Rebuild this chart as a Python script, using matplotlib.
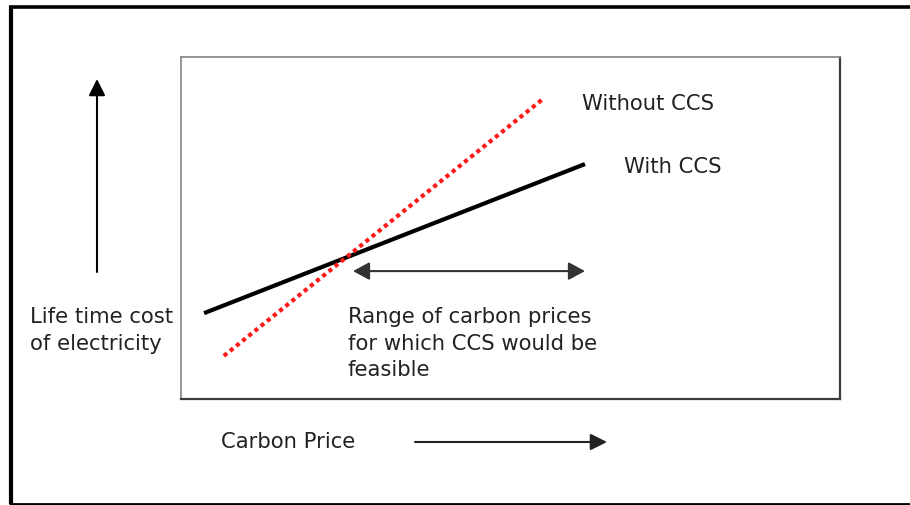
import matplotlib
matplotlib.use("Agg")
import matplotlib.pyplot as plt

plt.rcParams['font.family'] = ['DejaVu Sans']

# ---- data (conceptual diagram, axis units 0-100) ----
price_with = [3.5, 61.3]
cost_with = [25.1, 68.7]
price_without = [6.5, 54.9]
cost_without = [12.6, 87.7]
range_start = 26.1
range_end = 61.3
range_level = 37.4

label_without = "Without CCS"
label_with = "With CCS"
ylabel_lines = ["Life time cost", "of electricity"]
xlabel = "Carbon Price"
range_lines = ["Range of carbon prices", "for which CCS would be", "feasible"]

W, H = 910, 505
fig = plt.figure(figsize=(W / 100, H / 100), dpi=100)

# background axes in pixel coordinates (for frame, outside texts and arrows)
bg = fig.add_axes([0, 0, 1, 1])
bg.set_xlim(0, W)
bg.set_ylim(H, 0)
bg.axis('off')

# outer frame (left, top, bottom)
bg.plot([10.5, 10.5], [6, 504], color='black', lw=3, solid_capstyle='butt')
bg.plot([9, 910], [7, 7], color='black', lw=2.6, solid_capstyle='butt')
bg.plot([9, 910], [503.5, 503.5], color='black', lw=2.0, solid_capstyle='butt')

txt_color = '#222222'
fs = 15.2

# y-axis label and arrow
for i, line in enumerate(ylabel_lines):
    bg.text(30, 323 + 26.5 * i, line, fontsize=fs, color=txt_color, ha='left', va='baseline')
bg.annotate('', xy=(97, 79), xytext=(97, 272),
            arrowprops=dict(arrowstyle='-|>,head_length=0.5,head_width=0.25',
                            mutation_scale=20, color='black', lw=1.5,
                            shrinkA=0, shrinkB=0))

# x-axis label and arrow
bg.text(221, 448, xlabel, fontsize=fs, color=txt_color, ha='left', va='baseline')
bg.annotate('', xy=(607, 442), xytext=(415, 442),
            arrowprops=dict(arrowstyle='-|>,head_length=0.5,head_width=0.25',
                            mutation_scale=20, color='#222222', lw=1.5,
                            shrinkA=0, shrinkB=0))

# inner plot box
left, right, top, bottom = 181, 840, 57, 399
ax = fig.add_axes([left / W, (H - bottom) / H, (right - left) / W, (bottom - top) / H])
ax.set_xlim(0, 100)
ax.set_ylim(0, 100)
ax.set_xticks([])
ax.set_yticks([])
ax.patch.set_alpha(0)
for s in ['left', 'top']:
    ax.spines[s].set_color('#8c8c8c')
    ax.spines[s].set_linewidth(1.3)
for s in ['right', 'bottom']:
    ax.spines[s].set_color('#3c3c3c')
    ax.spines[s].set_linewidth(1.6)

ax.plot(price_with, cost_with, color='black', lw=3.0, solid_capstyle='butt', zorder=3)
ax.plot(price_without, cost_without, color='#ff1a1a', lw=3.0,
        linestyle=(0, (1, 0.9)), dash_capstyle='butt', zorder=4)

ax.annotate('', xy=(range_end, range_level), xytext=(range_start, range_level),
            arrowprops=dict(arrowstyle='<|-|>,head_length=0.5,head_width=0.27',
                            mutation_scale=20, color='#333333', lw=1.5,
                            shrinkA=0, shrinkB=0))

# labels inside the box (pixel coordinates via background axes)
bg.text(582, 110, label_without, fontsize=fs, color=txt_color, ha='left', va='baseline', zorder=5)
bg.text(624, 173, label_with, fontsize=fs, color=txt_color, ha='left', va='baseline', zorder=5)
for i, line in enumerate(range_lines):
    bg.text(348, 323 + 26.7 * i, line, fontsize=fs, color=txt_color, ha='left', va='baseline', zorder=5)

fig.savefig('out.png', dpi=100)
